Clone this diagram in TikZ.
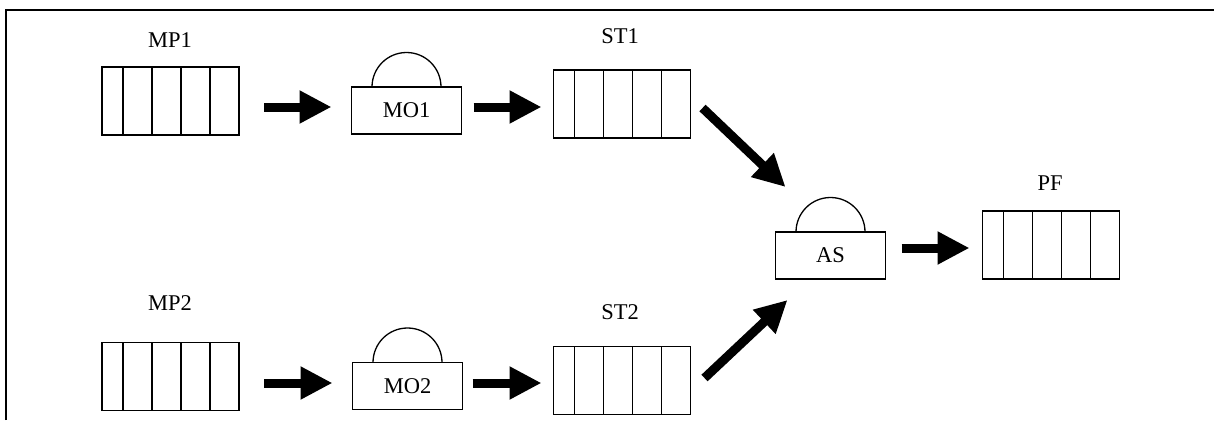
\documentclass[tikz,border=0pt]{standalone}
\usepackage{fontspec}
\setmainfont{Liberation Serif}
\usetikzlibrary{arrows.meta}
\begin{document}
\begin{tikzpicture}[x=1pt,y=-1pt,
  every node/.style={font=\fontsize{22.5}{27}\selectfont, inner sep=0pt, outer sep=0pt},
  queuebox/.style={draw, line width=1.3pt, minimum width=137pt, minimum height=68pt,
    path picture={\foreach \d in {21,50,79,108}
      \draw[line width=1.3pt] ([xshift=\d pt]path picture bounding box.north west) -- ([xshift=\d pt]path picture bounding box.south west);}},
  machinebox/.style={draw, line width=1.3pt, minimum width=110pt, minimum height=47pt},
  dome/.style={line width=1.3pt},
  bigarrow/.style={line width=9pt, -{Triangle[length=32pt,width=31pt]}},
  frameline/.style={line width=1.5pt}]
\useasboundingbox (0,0) rectangle (1214,420);
\draw[frameline] (6,420) -- (6,10) -- (1214,10);

% queues
\node[queuebox] (mp1) at (170.5,101) {};
\node[queuebox] (st1) at (622,104) {};
\node[queuebox] (pf) at (1051,245) {};
\node[queuebox] (mp2) at (170.5,376.5) {};
\node[queuebox] (st2) at (622,380.5) {};

% labels
\node (lmp1) at (170,40) {MP1};
\node (lst1) at (620,36) {ST1};
\node (lpf) at (1050,183) {PF};
\node (lmp2) at (170,303) {MP2};
\node (lst2) at (620,312) {ST2};

% machines
\node[machinebox] (mo1) at (406.5,110.5) {MO1};
\node[machinebox] (mo2) at (407.5,386) {MO2};
\node[machinebox] (as) at (830.5,255.5) {AS};
\foreach \m in {mo1,mo2,as}
  \draw[dome] ([xshift=-34.5pt]\m.north) arc[start angle=180,end angle=0,radius=34.5pt];

% arrows
\draw[bigarrow] ([shift={(25,6)}]mp1.east) -- ([shift={(-20,-3.5)}]mo1.west);
\draw[bigarrow] ([shift={(12,-3.5)}]mo1.east) -- ([shift={(-12,3)}]st1.west);
\draw[bigarrow] ([shift={(25,6.5)}]mp2.east) -- ([shift={(-20,-3)}]mo2.west);
\draw[bigarrow] ([shift={(10,-3)}]mo2.east) -- ([shift={(-12,2.5)}]st2.west);
\draw[bigarrow] ([shift={(16,-7.5)}]as.east) -- ([shift={(-13,3)}]pf.west);
\draw[bigarrow] ([shift={(12,4)}]st1.east) -- ([shift={(10,-45)}]as.north west);
\draw[bigarrow] ([shift={(14,-2.5)}]st2.east) -- ([shift={(12,21)}]as.south west);
\end{tikzpicture}
\end{document}
